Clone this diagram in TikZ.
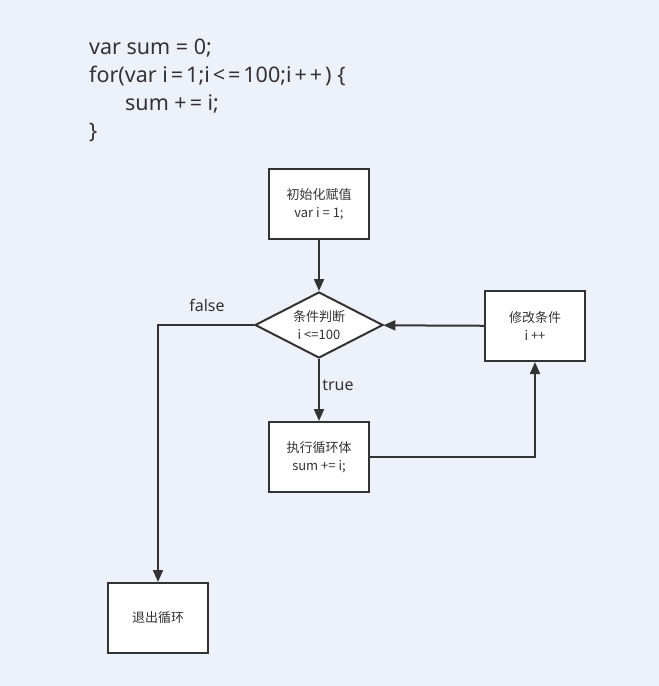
\documentclass[tikz,border=0pt]{standalone}
\usepackage{fontspec}
\setmainfont{Noto Sans CJK SC}
\newfontfamily\latinfont{Noto Sans}
\usetikzlibrary{arrows.meta,shapes.geometric}
\definecolor{bgblue}{HTML}{EDF1F9}
\definecolor{inkgray}{HTML}{333333}
\newcommand{\opgap}{\hspace{3pt}}

\begin{document}
\begin{tikzpicture}
		[x=1pt,y=-1pt,
		 box/.style= {minimum width=100pt,minimum height=70pt,inner sep=0pt,line width=2pt,draw=inkgray,fill=white,align=center,text=inkgray,font=\fontsize{13}{18}\selectfont},
		 test/.style= {diamond,aspect=2,minimum width=128pt,minimum height=66pt,inner sep=0pt,line width=2pt,draw=inkgray,fill=white,align=center,text=inkgray,font=\fontsize{13}{18}\selectfont},
		 code/.style= {anchor=base west,inner sep=0pt,text=inkgray,font=\latinfont\fontsize{21.5}{24}\selectfont},
		 tag/.style= {inner sep=0pt,text=inkgray,font=\latinfont\fontsize{16}{18}\selectfont},
		 flow/.style= {line width=2pt,draw=inkgray,-{Triangle[length=12pt,width=10pt]}}]
		
		\fill[bgblue] (0,0) rectangle (659,686);
		
		% code
		\node[code] (c1) at (89,54) {var sum = 0;};
		\node[code] (c2) at (89,82) {for(var i\opgap=\opgap1;i\opgap<\opgap=\opgap100;i\opgap+\opgap+\opgap) \{};
		\node[code] (c3) at (125,110) {sum +\opgap= i;};
		\node[code] (c4) at (89,138) {\}};
		
		% flow chart
		\node[box] (init) at (319,204) {初始化赋值\\var i = 1;};
		\node[test] (cond) at (319,325) {条件判断\\i <=100};
		\node[box] (body) at (319,457) {执行循环体\\sum += i;};
		\node[box] (update) at (535,326) {修改条件\\i ++};
		\node[box] (exit) at (158,618) {退出循环};
		
		\node[tag] (no) at (207,305) {false};
		\node[tag] (yes) at (338,385) {true};
		
		\draw[flow] (init) -- (cond);
		\draw[flow] (cond) -- (body);
		\draw[flow] (body) -| (update);
		\draw[flow] (update) -- (cond);
		\draw[flow] (cond.west) -| (exit);
		
	\end{tikzpicture}
\end{document}
